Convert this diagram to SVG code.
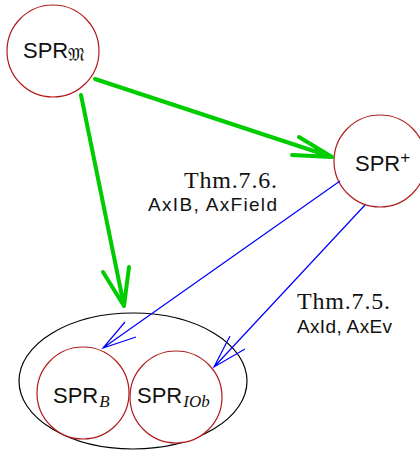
<svg xmlns="http://www.w3.org/2000/svg" width="420" height="451" viewBox="0 0 420 451">
<style>
.node{fill:#fff;stroke:#b01c1c;stroke-width:1.2}
.lbl{font-family:"Liberation Sans",Arial,sans-serif;font-size:22px;fill:#111}
.sub{font-family:"Liberation Serif","Times New Roman",serif;font-style:italic;font-size:17px;fill:#111}
.thm{font-family:"Liberation Serif","Times New Roman",serif;font-size:24px;fill:#111;text-anchor:end}
.ax{font-family:"Liberation Sans",Arial,sans-serif;font-size:19px;fill:#111;text-anchor:end}
.g{stroke:#00cc00;stroke-width:4;fill:none;stroke-linecap:round;stroke-linejoin:round}
.b{stroke:#0000ff;stroke-width:1.2;fill:none}
</style>
<g id="group-ellipse">
<ellipse cx="133" cy="381" rx="114" ry="68" fill="none" stroke="#000" stroke-width="1.2"/>
</g>
<g id="node-sprm">
<circle class="node" cx="53" cy="51" r="46"/>
<text class="lbl" x="23" y="58">SPR<tspan font-family="DejaVu Serif,serif" font-size="18" dy="3">𝔐</tspan></text>
</g>
<g id="node-sprplus">
<circle class="node" cx="380" cy="161" r="46"/>
<text class="lbl" x="355" y="171">SPR<tspan font-size="17" dy="-8">+</tspan></text>
</g>
<g id="node-sprb">
<circle class="node" cx="83" cy="393" r="46"/>
<text class="lbl" x="53" y="403">SPR<tspan class="sub" dx="1" dy="4">B</tspan></text>
</g>
<g id="node-sprioB">
<circle class="node" cx="176" cy="397" r="46"/>
<text class="lbl" x="137" y="403">SPR<tspan class="sub" font-size="18" dx="1" dy="4">IOb</tspan></text>
</g>
<g id="connectors">
<path class="g" d="M95,79 L332,157 M299,137 L332,157 L292,155"/>
<path class="g" d="M81,95 L124,306 M103,272 L124,306 L129,267"/>
<path class="b" d="M340,181 L103,348 M125,322 L103,348 L136,337"/>
<path class="b" d="M365,205 L214,367 M230,336 L214,367 L245,349"/>
</g>
<g id="labels">
<text class="thm" x="277" y="188" textLength="93">Thm.7.6.</text>
<text class="ax" x="277" y="211" textLength="129">AxIB, AxField</text>
<text class="thm" x="390" y="309" textLength="93">Thm.7.5.</text>
<text class="ax" x="392" y="333" textLength="95">AxId, AxEv</text>
</g>
</svg>
